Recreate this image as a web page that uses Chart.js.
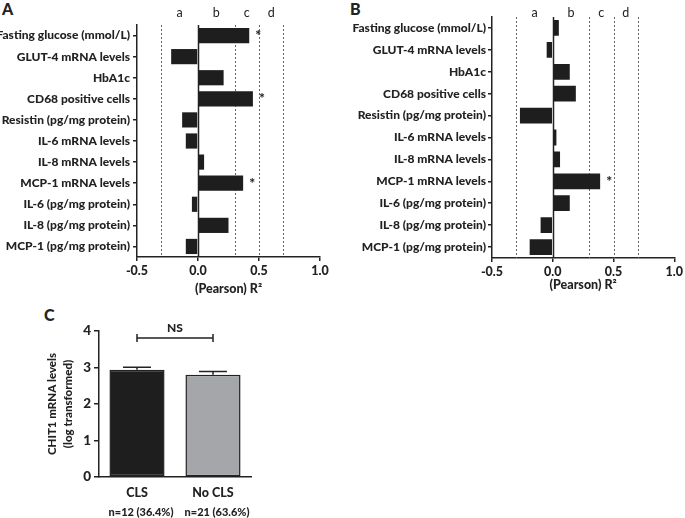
<!DOCTYPE html>
<html>
<head>
<meta charset="utf-8">
<script src="https://cdn.jsdelivr.net/npm/chart.js@4.4.1/dist/chart.umd.min.js"></script>
<style>
  body { margin: 0; width: 685px; height: 518px; background: #fff; position: relative; overflow: hidden; }
  canvas { position: absolute; }
  .letter { position: absolute; font: 900 16px Lato, sans-serif; color: #222; }
</style>
</head>
<body>
<div class="letter" style="left:2px;top:-1px">A</div>
<div class="letter" style="left:350px;top:-1px">B</div>
<div class="letter" style="left:44px;top:305px">C</div>
<canvas id="chartA" width="340" height="300" style="left:0;top:0"></canvas>
<canvas id="chartB" width="345" height="300" style="left:340px;top:0"></canvas>
<canvas id="chartC" width="300" height="218" style="left:0;top:300px"></canvas>
<script>
/* Panels A and B: correlations (Pearson R2) per measure */
const measures = [
    'Fasting glucose (mmol/L)', 'GLUT-4 mRNA levels', 'HbA1c', 'CD68 positive cells',
    'Resistin (pg/mg protein)', 'IL-6 mRNA levels', 'IL-8 mRNA levels', 'MCP-1 mRNA levels',
    'IL-6 (pg/mg protein)', 'IL-8 (pg/mg protein)', 'MCP-1 (pg/mg protein)'
];
const r2A = [0.42, -0.22, 0.21, 0.45, -0.13, -0.10, 0.05, 0.37, -0.05, 0.25, -0.10];
const sigA = [true, false, false, true, false, false, false, true, false, false, false];
const r2B = [0.05, -0.05, 0.14, 0.19, -0.27, 0.03, 0.06, 0.39, 0.14, -0.10, -0.19];
const sigB = [false, false, false, false, false, false, false, true, false, false, false];
const r2Ticks = [-0.5, 0, 0.5, 1.0];
const zoneBounds = [-0.3, 0, 0.3, 0.5, 0.7];
const zoneNames = ['a', 'b', 'c', 'd'];

/* Panel C: CHIT1 mRNA by CLS status */
const groups = ['CLS', 'No CLS'];
const groupN = ['n=12 (36.4%)', 'n=21 (63.6%)'];
const chitMean = [2.94, 2.80];
const chitSem = [0.07, 0.09];
const chitTicks = [0, 1, 2, 3, 4];
const nsLevel = 3.81;

const INK = '#222';
const W = '900';
Chart.defaults.font.family = 'Lato, sans-serif';
Chart.defaults.font.weight = W;
Chart.defaults.color = INK;

// dashed cut-off lines, solid zero line and a-d zone letters
const zonePlugin = {
    id: 'zones',
    beforeDatasetsDraw(chart, args, opts) {
        const { ctx, chartArea: area, scales: { x } } = chart;
        ctx.save();
        zoneBounds.forEach(v => {
            const px = Math.round(x.getPixelForValue(v)) + 0.5;
            ctx.beginPath();
            if (v === 0) {
                ctx.setLineDash([]);
                ctx.strokeStyle = INK;
                ctx.lineWidth = 1.5;
            } else {
                ctx.setLineDash([2, 2]);
                ctx.strokeStyle = '#666';
                ctx.lineWidth = 1;
            }
            ctx.moveTo(px, area.top);
            ctx.lineTo(px, area.bottom);
            ctx.stroke();
        });
        ctx.setLineDash([]);
        ctx.fillStyle = INK;
        ctx.font = 'normal 12.5px Lato, sans-serif';
        ctx.textAlign = 'center';
        ctx.textBaseline = 'middle';
        zoneNames.forEach((name, i) => {
            const mid = (zoneBounds[i] + zoneBounds[i + 1]) / 2;
            ctx.fillText(name, x.getPixelForValue(mid), opts.labelY);
        });
        ctx.restore();
    }
};

// asterisks next to significant bars
const starPlugin = {
    id: 'stars',
    afterDatasetsDraw(chart, args, opts) {
        const { ctx } = chart;
        const bars = chart.getDatasetMeta(0).data;
        ctx.save();
        ctx.fillStyle = INK;
        ctx.font = W + ' 14px Lato, sans-serif';
        ctx.textAlign = 'left';
        ctx.textBaseline = 'middle';
        opts.sig.forEach((s, i) => {
            if (s) ctx.fillText('*', bars[i].x + 6, bars[i].y);
        });
        ctx.restore();
    }
};

function makeCorrChart(id, values, sig, axisWidth, padTop, padRight, xHeight, titlePadBottom, labelPad) {
    return new Chart(document.getElementById(id), {
        type: 'bar',
        data: {
            labels: measures,
            datasets: [{
                data: values,
                backgroundColor: '#1e1e1e',
                borderWidth: 0,
                barPercentage: 0.72,
                categoryPercentage: 1.0
            }]
        },
        options: {
            indexAxis: 'y',
            responsive: false,
            animation: false,
            layout: { padding: { top: padTop, right: padRight, left: 0, bottom: 0 } },
            plugins: {
                legend: { display: false },
                tooltip: { enabled: false },
                zones: { labelY: 13 },
                stars: { sig: sig }
            },
            scales: {
                x: {
                    min: -0.5,
                    max: 1.0,
                    afterBuildTicks: s => { s.ticks = r2Ticks.map(v => ({ value: v })); },
                    ticks: {
                        callback: v => v.toFixed(1),
                        font: { size: 12.5, weight: W },
                        padding: 2,
                        maxRotation: 0
                    },
                    grid: { drawOnChartArea: false, tickLength: 4, color: INK, lineWidth: 1.5 },
                    border: { color: INK, width: 1.5 },
                    title: {
                        display: true,
                        text: '(Pearson) R²',
                        font: { size: 12.5, weight: W },
                        padding: { top: 4, bottom: titlePadBottom }
                    },
                    afterFit: s => { s.height = xHeight; }
                },
                y: {
                    ticks: { font: { size: 12, weight: W }, padding: labelPad },
                    grid: { drawOnChartArea: false, offset: false, tickLength: 4, color: INK, lineWidth: 1.5 },
                    border: { color: INK, width: 1.5 },
                    afterFit: s => { s.width = axisWidth; }
                }
            }
        },
        plugins: [zonePlugin, starPlugin]
    });
}

makeCorrChart('chartA', r2A, sigA, 137, 25, 20, 43, 4, 3);
makeCorrChart('chartB', r2B, sigB, 152, 17, 10, 42, 8, 2);

// error bars, NS bracket and group sizes for panel C
const extrasPlugin = {
    id: 'extras',
    afterDatasetsDraw(chart) {
        const { ctx, chartArea: area, scales: { x, y } } = chart;
        const bars = chart.getDatasetMeta(0).data;
        ctx.save();
        ctx.strokeStyle = INK;
        ctx.lineWidth = 1.5;
        bars.forEach((bar, i) => {
            const top = y.getPixelForValue(chitMean[i] + chitSem[i]);
            ctx.beginPath();
            ctx.moveTo(bar.x, bar.y);
            ctx.lineTo(bar.x, top);
            ctx.moveTo(bar.x - 14, top);
            ctx.lineTo(bar.x + 14, top);
            ctx.stroke();
        });
        const ny = y.getPixelForValue(nsLevel);
        ctx.beginPath();
        ctx.moveTo(bars[0].x, ny);
        ctx.lineTo(bars[1].x, ny);
        ctx.moveTo(bars[0].x, ny - 4);
        ctx.lineTo(bars[0].x, ny + 4);
        ctx.moveTo(bars[1].x, ny - 4);
        ctx.lineTo(bars[1].x, ny + 4);
        ctx.stroke();
        ctx.fillStyle = INK;
        ctx.textAlign = 'center';
        ctx.textBaseline = 'middle';
        ctx.font = W + ' 12px Lato, sans-serif';
        ctx.fillText('NS', (bars[0].x + bars[1].x) / 2, ny - 10);
        ctx.font = W + ' 11px Lato, sans-serif';
        groupN.forEach((t, i) => {
            ctx.fillText(t, x.getPixelForValue(i) + 4, area.bottom + 35);
        });
        ctx.restore();
    }
};

new Chart(document.getElementById('chartC'), {
    type: 'bar',
    data: {
        labels: groups,
        datasets: [{
            data: chitMean,
            backgroundColor: ['#1e1e1e', '#a4a6a9'],
            borderColor: INK,
            borderWidth: 1.5,
            borderSkipped: false,
            barPercentage: 0.725,
            categoryPercentage: 1.0
        }]
    },
    options: {
        responsive: false,
        animation: false,
        layout: { padding: { top: 31, right: 49, left: 38, bottom: 0 } },
        plugins: { legend: { display: false }, tooltip: { enabled: false } },
        scales: {
            x: {
                ticks: { font: { size: 12.5, weight: W }, padding: 8 },
                grid: { drawOnChartArea: false, drawTicks: false },
                border: { color: INK, width: 1.5 },
                afterFit: s => { s.height = 41; }
            },
            y: {
                min: 0,
                max: 4,
                afterBuildTicks: s => { s.ticks = chitTicks.map(v => ({ value: v })); },
                ticks: { font: { size: 13.5, weight: W }, padding: 3 },
                grid: { drawOnChartArea: false, tickLength: 5, color: INK, lineWidth: 1.5 },
                border: { color: INK, width: 1.5 },
                title: {
                    display: true,
                    text: ['CHIT1 mRNA levels', '(log transformed)'],
                    font: { size: 11.5, weight: W, lineHeight: 1.4 },
                    padding: { top: 6, bottom: 0 }
                },
                afterFit: s => { s.width = 61; }
            }
        }
    },
    plugins: [extrasPlugin]
});
</script>
</body>
</html>
